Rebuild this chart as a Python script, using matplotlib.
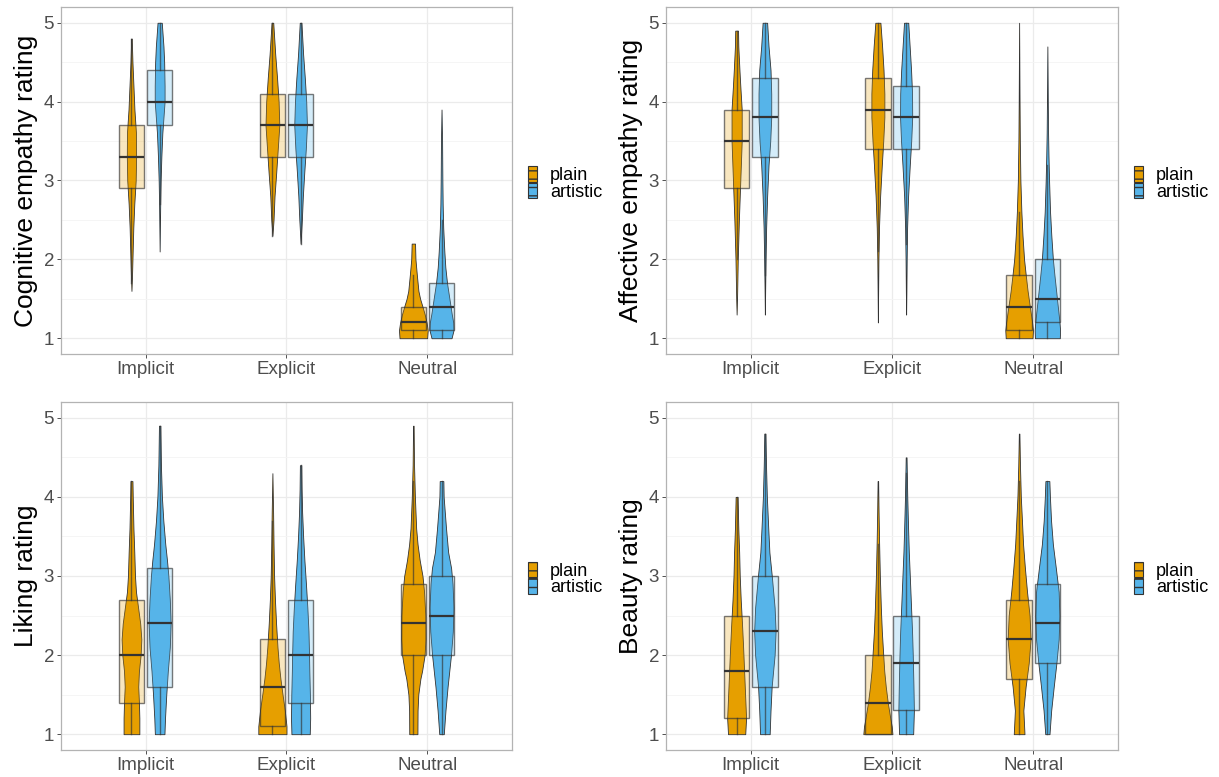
import matplotlib.pyplot as plt
from matplotlib.colors import to_rgba
from matplotlib.patches import Patch

plt.rcParams["font.family"] = ["Liberation Sans", "DejaVu Sans"]

conditions = ["Implicit", "Explicit", "Neutral"]
groups = ["plain", "artistic"]
colors = {"plain": "#E69F00", "artistic": "#56B4E9"}
ylabels = ["Cognitive empathy rating", "Affective empathy rating", "Liking rating", "Beauty rating"]

# box stats per condition: (q1, median, q3, whisker low, whisker high)
cognitive_plain_box = [(2.9, 3.3, 3.7, 1.7, 4.8), (3.3, 3.7, 4.1, 2.3, 5.0), (1.1, 1.2, 1.4, 1.0, 1.8)]
cognitive_artistic_box = [(3.7, 4.0, 4.4, 2.7, 5.0), (3.3, 3.7, 4.1, 2.2, 5.0), (1.1, 1.4, 1.7, 1.0, 2.5)]
affective_plain_box = [(2.9, 3.5, 3.9, 2.0, 4.9), (3.4, 3.9, 4.3, 2.1, 5.0), (1.1, 1.4, 1.8, 1.0, 2.6)]
affective_artistic_box = [(3.3, 3.8, 4.3, 1.8, 5.0), (3.4, 3.8, 4.2, 2.2, 5.0), (1.2, 1.5, 2.0, 1.0, 3.2)]
liking_plain_box = [(1.4, 2.0, 2.7, 1.0, 4.2), (1.1, 1.6, 2.2, 1.0, 3.7), (2.0, 2.4, 2.9, 1.0, 4.2)]
liking_artistic_box = [(1.6, 2.4, 3.1, 1.0, 4.9), (1.4, 2.0, 2.7, 1.0, 4.4), (2.0, 2.5, 3.0, 1.0, 4.2)]
beauty_plain_box = [(1.2, 1.8, 2.5, 1.0, 4.0), (1.0, 1.4, 2.0, 1.0, 3.4), (1.7, 2.2, 2.7, 1.0, 4.2)]
beauty_artistic_box = [(1.6, 2.3, 3.0, 1.0, 4.8), (1.3, 1.9, 2.5, 1.0, 4.3), (1.9, 2.4, 2.9, 1.0, 4.2)]

# violin outlines: (rating, half width) per condition
cognitive_plain_violin = [
    [(1.6, 0), (1.8, 0.004), (2.0, 0.007), (2.4, 0.013), (2.7, 0.02), (3.0, 0.03), (3.3, 0.033),
     (3.6, 0.032), (3.9, 0.021), (4.2, 0.014), (4.5, 0.007), (4.8, 0.002)],
    [(2.3, 0), (2.5, 0.008), (2.8, 0.015), (3.1, 0.027), (3.4, 0.038), (3.7, 0.049), (4.0, 0.044),
     (4.3, 0.033), (4.6, 0.02), (5.0, 0.006)],
    [(1.0, 0.098), (1.1, 0.102), (1.2, 0.094), (1.3, 0.081), (1.4, 0.065), (1.5, 0.048), (1.6, 0.036),
     (1.8, 0.025), (2.0, 0.015), (2.2, 0.012)],
]
cognitive_artistic_violin = [
    [(2.1, 0), (2.7, 0.004), (3.0, 0.007), (3.3, 0.012), (3.6, 0.019), (3.8, 0.027), (4.0, 0.035),
     (4.2, 0.035), (4.5, 0.032), (4.7, 0.027), (5.0, 0.015)],
    [(2.2, 0), (2.5, 0.009), (2.8, 0.016), (3.1, 0.026), (3.4, 0.037), (3.7, 0.045), (4.0, 0.04),
     (4.3, 0.03), (4.6, 0.018), (5.0, 0.006)],
    [(1.0, 0.071), (1.1, 0.085), (1.2, 0.083), (1.3, 0.073), (1.5, 0.056), (1.7, 0.039), (1.9, 0.027),
     (2.1, 0.02), (2.4, 0.012), (2.7, 0.008), (3.0, 0.006), (3.5, 0.004), (3.9, 0)],
]
affective_plain_violin = [
    [(1.3, 0), (1.5, 0.003), (2.0, 0.008), (2.5, 0.016), (3.0, 0.026), (3.5, 0.036), (3.9, 0.036),
     (4.2, 0.026), (4.4, 0.02), (4.7, 0.012), (4.9, 0.01)],
    [(1.2, 0), (1.6, 0.002), (2.0, 0.004), (2.4, 0.008), (2.8, 0.016), (3.2, 0.028), (3.5, 0.038),
     (3.8, 0.046), (4.1, 0.046), (4.4, 0.04), (4.7, 0.03), (5.0, 0.018)],
    [(1.0, 0.095), (1.1, 0.098), (1.2, 0.092), (1.4, 0.076), (1.6, 0.06), (1.8, 0.047), (2.0, 0.035),
     (2.3, 0.024), (2.6, 0.016), (3.0, 0.009), (3.5, 0.005), (4.0, 0.003), (5.0, 0)],
]
affective_artistic_violin = [
    [(1.3, 0), (1.6, 0.002), (2.0, 0.005), (2.4, 0.009), (2.8, 0.016), (3.2, 0.026), (3.5, 0.038),
     (3.8, 0.045), (4.1, 0.045), (4.4, 0.04), (4.7, 0.026), (5.0, 0.016)],
    [(1.3, 0), (1.6, 0.002), (2.0, 0.004), (2.4, 0.007), (2.8, 0.014), (3.2, 0.026), (3.5, 0.036),
     (3.8, 0.043), (4.1, 0.042), (4.4, 0.035), (4.7, 0.025), (5.0, 0.015)],
    [(1.0, 0.088), (1.1, 0.09), (1.2, 0.086), (1.4, 0.074), (1.6, 0.062), (1.8, 0.05), (2.0, 0.039),
     (2.3, 0.028), (2.6, 0.019), (3.0, 0.012), (3.3, 0.008), (3.6, 0.005), (4.0, 0.003), (4.7, 0)],
]
liking_plain_violin = [
    [(1.0, 0.056), (1.2, 0.056), (1.4, 0.053), (1.6, 0.048), (1.8, 0.053), (2.0, 0.065), (2.2, 0.07),
     (2.4, 0.062), (2.6, 0.047), (2.8, 0.032), (3.0, 0.025), (3.3, 0.02), (3.6, 0.014), (4.0, 0.009),
     (4.2, 0.007)],
    [(1.0, 0.1), (1.1, 0.1), (1.3, 0.088), (1.5, 0.072), (1.7, 0.057), (1.9, 0.045), (2.1, 0.036),
     (2.4, 0.026), (2.7, 0.018), (3.0, 0.012), (3.4, 0.008), (3.8, 0.005), (4.3, 0)],
    [(1.0, 0.029), (1.3, 0.03), (1.5, 0.035), (1.7, 0.05), (1.8, 0.062), (2.0, 0.08), (2.2, 0.086),
     (2.5, 0.085), (2.8, 0.076), (3.0, 0.065), (3.2, 0.045), (3.4, 0.03), (3.6, 0.02), (4.0, 0.011),
     (4.4, 0.005), (4.9, 0.002)],
]
liking_artistic_violin = [
    [(1.0, 0.034), (1.2, 0.038), (1.5, 0.047), (1.8, 0.058), (2.1, 0.072), (2.4, 0.078), (2.7, 0.072),
     (3.0, 0.062), (3.2, 0.052), (3.4, 0.04), (3.7, 0.026), (4.0, 0.016), (4.4, 0.009), (4.9, 0.005)],
    [(1.0, 0.065), (1.2, 0.068), (1.5, 0.066), (1.8, 0.062), (2.0, 0.06), (2.3, 0.056), (2.6, 0.048),
     (2.9, 0.038), (3.2, 0.027), (3.5, 0.018), (3.8, 0.011), (4.1, 0.007), (4.4, 0.005)],
    [(1.0, 0.016), (1.3, 0.028), (1.6, 0.043), (2.0, 0.067), (2.3, 0.08), (2.6, 0.085), (2.9, 0.078),
     (3.1, 0.068), (3.3, 0.047), (3.6, 0.032), (4.0, 0.015), (4.2, 0.013)],
]
beauty_plain_violin = [
    [(1.0, 0.061), (1.2, 0.067), (1.5, 0.06), (1.8, 0.053), (2.1, 0.046), (2.4, 0.038), (2.7, 0.029),
     (3.0, 0.022), (3.3, 0.018), (3.6, 0.012), (4.0, 0.007)],
    [(1.0, 0.103), (1.1, 0.098), (1.2, 0.088), (1.4, 0.07), (1.6, 0.056), (1.8, 0.045), (2.0, 0.038),
     (2.3, 0.028), (2.6, 0.021), (3.0, 0.014), (3.4, 0.009), (3.8, 0.005), (4.2, 0.002)],
    [(1.0, 0.038), (1.3, 0.03), (1.6, 0.046), (1.9, 0.068), (2.2, 0.081), (2.5, 0.074), (2.8, 0.056),
     (3.1, 0.041), (3.4, 0.028), (3.7, 0.02), (4.0, 0.012), (4.4, 0.006), (4.8, 0.002)],
]
beauty_artistic_violin = [
    [(1.0, 0.034), (1.3, 0.04), (1.6, 0.048), (2.0, 0.069), (2.3, 0.076), (2.6, 0.069), (3.0, 0.049),
     (3.3, 0.032), (3.6, 0.024), (4.0, 0.014), (4.4, 0.008), (4.8, 0.004)],
    [(1.0, 0.05), (1.3, 0.055), (1.6, 0.052), (2.0, 0.047), (2.3, 0.042), (2.6, 0.035), (3.0, 0.026),
     (3.3, 0.019), (3.6, 0.014), (4.0, 0.008), (4.5, 0.003)],
    [(1.0, 0.015), (1.3, 0.027), (1.6, 0.045), (1.9, 0.064), (2.2, 0.08), (2.5, 0.085), (2.8, 0.08),
     (3.1, 0.06), (3.4, 0.039), (3.7, 0.026), (4.0, 0.018), (4.2, 0.014)],
]

panels = [
    (cognitive_plain_violin, cognitive_artistic_violin, cognitive_plain_box, cognitive_artistic_box),
    (affective_plain_violin, affective_artistic_violin, affective_plain_box, affective_artistic_box),
    (liking_plain_violin, liking_artistic_violin, liking_plain_box, liking_artistic_box),
    (beauty_plain_violin, beauty_artistic_violin, beauty_plain_box, beauty_artistic_box),
]

W, H = 1219, 777
# axes rectangles in pixels: left, top, right, bottom
rects = [(61, 7, 512, 354), (666, 7, 1118, 354), (61, 402, 512, 750), (666, 402, 1118, 750)]

fig = plt.figure(figsize=(W / 100, H / 100), dpi=100)
edge = "#333333"
offsets = {"plain": -0.1, "artistic": 0.1}

for i, (pv, av, pb, ab) in enumerate(panels):
    l, t, r, b = rects[i]
    ax = fig.add_axes([l / W, 1 - b / H, (r - l) / W, (b - t) / H])
    for g, violins, boxes in (("plain", pv, pb), ("artistic", av, ab)):
        for j, cond in enumerate(conditions):
            xc = j + 1 + offsets[g]
            ys = [p[0] for p in violins[j]]
            hw = [p[1] for p in violins[j]]
            ax.fill_betweenx(ys, [xc - w for w in hw], [xc + w for w in hw],
                             facecolor=colors[g], edgecolor=edge, linewidth=0.6, zorder=2)
            q1, med, q3, lo, hi = boxes[j]
            stats = [dict(q1=q1, med=med, q3=q3, whislo=lo, whishi=hi, fliers=[])]
            ax.bxp(stats, positions=[xc], widths=0.18, showcaps=False, showfliers=False,
                   patch_artist=True, manage_ticks=False, zorder=3,
                   boxprops=dict(facecolor=to_rgba(colors[g], 0.25), edgecolor=(0.2, 0.2, 0.2, 0.65),
                                 linewidth=1.0),
                   whiskerprops=dict(color=(0.2, 0.2, 0.2, 0.65), linewidth=1.0),
                   medianprops=dict(color="#333333", linewidth=1.6))

    ax.set_xlim(0.4, 3.6)
    ax.set_ylim(0.8, 5.2)
    ax.set_xticks([1, 2, 3])
    ax.set_xticklabels(conditions)
    ax.set_yticks([1, 2, 3, 4, 5])
    ax.set_yticks([1.5, 2.5, 3.5, 4.5], minor=True)
    ax.grid(True, which="major", color="#EBEBEB", linewidth=0.9, zorder=0)
    ax.grid(True, which="minor", axis="y", color="#F4F4F4", linewidth=0.6, zorder=0)
    ax.set_axisbelow(True)
    ax.tick_params(which="major", length=3, width=0.6, color="#333333", labelsize=13.5,
                   labelcolor="#4D4D4D", pad=2)
    ax.tick_params(which="minor", length=0)
    for s in ax.spines.values():
        s.set_color("#B3B3B3")
        s.set_linewidth(0.9)
    ax.set_ylabel(ylabels[i], fontsize=19, color="black", labelpad=4)

    handles = [Patch(facecolor=colors[g], edgecolor=edge, hatch="--", linewidth=0.8, label=g)
               for g in groups]
    yc = (t + b) / 2
    fig.legend(handles=handles, loc="center left",
               bbox_to_anchor=((r + 12) / W, 1 - (yc + 3) / H),
               frameon=False, fontsize=13, handlelength=0.5, handleheight=0.95,
               handletextpad=0.75, labelspacing=-0.1, borderpad=0.2, borderaxespad=0)

fig.savefig("out.png", dpi=100)
